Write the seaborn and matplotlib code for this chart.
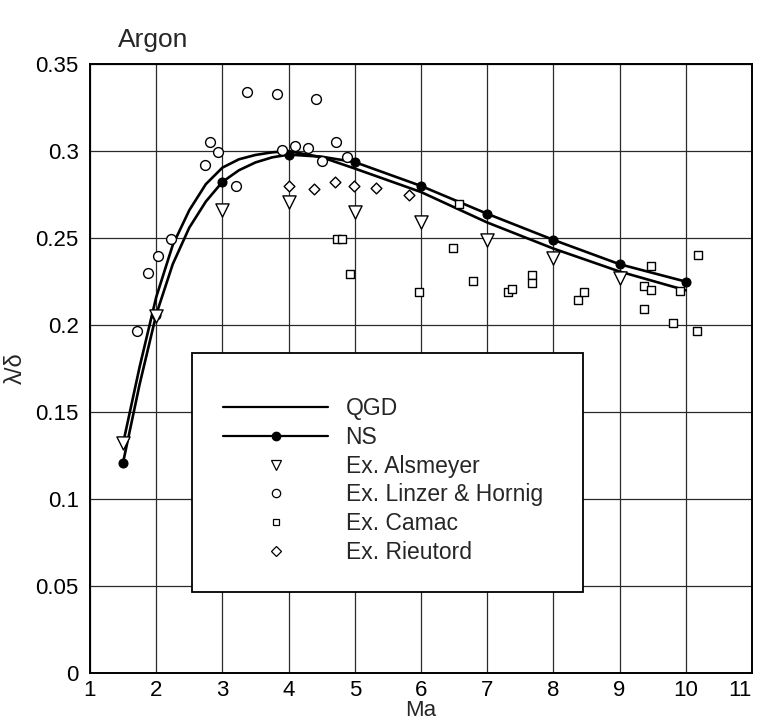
import matplotlib
matplotlib.use("Agg")
import matplotlib.pyplot as plt
from matplotlib.lines import Line2D
from matplotlib.patches import Rectangle
from matplotlib import font_manager
import seaborn as sns

# ---------------- data ----------------
qgd_ma = [1.5, 1.75, 2.0, 2.25, 2.5, 2.75, 3.0, 3.25, 3.5, 3.75, 4.0, 4.5, 5.0, 6.0, 7.0, 8.0, 9.0, 10.0]
qgd_val = [0.132, 0.176, 0.216, 0.246, 0.266, 0.281, 0.2905, 0.2953, 0.2978, 0.2993, 0.300, 0.2965, 0.290, 0.2765, 0.259, 0.244, 0.2308, 0.220]

ns_ma = [1.5, 1.75, 2.0, 2.25, 2.5, 2.75, 3.0, 3.25, 3.5, 3.75, 4.0, 4.5, 5.0, 6.0, 7.0, 8.0, 9.0, 10.0]
ns_val = [0.121, 0.166, 0.206, 0.235, 0.256, 0.271, 0.2823, 0.289, 0.2935, 0.2964, 0.298, 0.2968, 0.2937, 0.280, 0.264, 0.249, 0.235, 0.225]
ns_marker_idx = [0, 2, 6, 10, 12, 13, 14, 15, 16, 17]

alsmeyer_ma = [1.5, 2, 3, 4, 5, 6, 7, 8, 9]
alsmeyer_val = [0.132, 0.2053, 0.266, 0.271, 0.265, 0.259, 0.249, 0.2387, 0.227]

linzer_ma = [1.71, 1.88, 2.02, 2.22, 2.73, 2.81, 2.94, 3.21, 3.375, 3.83, 3.90, 4.10, 4.30, 4.41, 4.50, 4.72, 4.89]
linzer_val = [0.1964, 0.2299, 0.2398, 0.2496, 0.292, 0.3054, 0.2997, 0.280, 0.334, 0.333, 0.3006, 0.303, 0.302, 0.330, 0.2943, 0.3054, 0.2964]

camac_ma = [4.73, 4.81, 4.93, 5.97, 6.48, 6.58, 6.78, 7.32, 7.38, 7.68, 7.68, 8.375, 8.47, 9.37, 9.37, 9.47, 9.47, 9.81, 9.92, 10.17, 10.18]
camac_val = [0.2494, 0.2494, 0.2293, 0.2193, 0.2442, 0.2697, 0.2255, 0.219, 0.221, 0.2289, 0.2241, 0.2142, 0.219, 0.2226, 0.2092, 0.2337, 0.2203, 0.2012, 0.2197, 0.1964, 0.2404]

rieutord_ma = [4.00, 4.39, 4.70, 4.99, 5.32, 5.82]
rieutord_val = [0.280, 0.278, 0.282, 0.280, 0.279, 0.2748]

x_ticks = [1, 2, 3, 4, 5, 6, 7, 8, 9, 10, 11]
y_ticks = [0, 0.05, 0.1, 0.15, 0.2, 0.25, 0.3, 0.35]
y_tick_labels = ["0", "0.05", "0.1", "0.15", "0.2", "0.25", "0.3", "0.35"]
legend_labels = ["QGD", "NS", "Ex. Alsmeyer", "Ex. Linzer & Hornig", "Ex. Camac", "Ex. Rieutord"]

# ---------------- style ----------------
sns.set_theme(style="white")
plt.rcParams["font.family"] = ["Liberation Sans", "DejaVu Sans"]

installed = {f.name for f in font_manager.fontManager.ttflist}
narrow = [f for f in ["Liberation Sans Narrow", "DejaVu Sans Condensed"] if f in installed]
narrow_family = narrow + ["Liberation Sans", "DejaVu Sans"]

fig = plt.figure(figsize=(7.6, 7.24), dpi=100)
ax = fig.add_axes([0.1184, 0.0704, 0.871, 0.841])

# grid
ax.set_axisbelow(True)
ax.grid(True, color="#2a2a2a", linewidth=0.9)

# curves
sns.lineplot(x=qgd_ma, y=qgd_val, ax=ax, color="black", linewidth=1.9, sort=False, zorder=3)
sns.lineplot(x=ns_ma, y=ns_val, ax=ax, color="black", linewidth=1.9, sort=False,
             marker="o", markersize=6.5, markevery=ns_marker_idx,
             markerfacecolor="black", markeredgecolor="black", zorder=3)

# experimental points
sns.scatterplot(x=alsmeyer_ma, y=alsmeyer_val, ax=ax, marker="v", s=90,
                facecolor="white", edgecolor="black", linewidth=1.0, zorder=4)
sns.scatterplot(x=linzer_ma, y=linzer_val, ax=ax, marker="o", s=50,
                facecolor="white", edgecolor="black", linewidth=1.0, zorder=4)
sns.scatterplot(x=camac_ma, y=camac_val, ax=ax, marker="s", s=30,
                facecolor="white", edgecolor="black", linewidth=1.0, zorder=4)
sns.scatterplot(x=rieutord_ma, y=rieutord_val, ax=ax, marker="D", s=30,
                facecolor="white", edgecolor="black", linewidth=1.0, zorder=4)

ax.set_xlim(1, 11)
ax.set_ylim(0, 0.35)
ax.set_xticks(x_ticks)
ax.set_yticks(y_ticks)
ax.set_yticklabels(y_tick_labels)
ax.tick_params(axis="both", length=0, colors="black")
ax.tick_params(axis="y", pad=8)
ax.tick_params(axis="x", pad=5)
for lab in ax.get_yticklabels():
    lab.set_fontsize(16)
xlabs = ax.get_xticklabels()
for lab in xlabs:
    lab.set_fontsize(16)
    lab.set_family(narrow_family)
xlabs[-1].set_horizontalalignment("right")
xlabs[0].set_horizontalalignment("center")

for sp in ax.spines.values():
    sp.set_visible(True)
    sp.set_color("black")
    sp.set_linewidth(1.4)

ax.set_xlabel("Ma", fontsize=16, labelpad=-1, family=narrow_family)
ax.set_ylabel("λ/δ", fontsize=17, labelpad=6)

fig.text(118 / 760, 1 - 40 / 724, "Argon", fontsize=19, ha="left", va="center")

# legend box
ax.add_patch(Rectangle((0.1536, 0.133), 0.591, 0.392, transform=ax.transAxes,
                       facecolor="white", edgecolor="black", linewidth=1.3, zorder=9))

handles = [
    Line2D([], [], color="black", linewidth=1.6),
    Line2D([], [], color="black", linewidth=1.6, marker="o", markersize=6,
           markerfacecolor="black"),
    Line2D([], [], linestyle="none", marker="v", markersize=7, markerfacecolor="white",
           markeredgecolor="black", markeredgewidth=0.9),
    Line2D([], [], linestyle="none", marker="o", markersize=6, markerfacecolor="white",
           markeredgecolor="black", markeredgewidth=0.9),
    Line2D([], [], linestyle="none", marker="s", markersize=5, markerfacecolor="white",
           markeredgecolor="black", markeredgewidth=0.9),
    Line2D([], [], linestyle="none", marker="D", markersize=5, markerfacecolor="white",
           markeredgecolor="black", markeredgewidth=0.9),
]
leg = ax.legend(handles, legend_labels, loc="upper left",
                bbox_to_anchor=(0.2009, 0.453), borderaxespad=0, borderpad=0,
                fontsize=16.5, frameon=False,
                handlelength=4.6, handletextpad=0.75, labelspacing=0.25)
leg.set_zorder(10)

fig.savefig("out.png", dpi=100)
